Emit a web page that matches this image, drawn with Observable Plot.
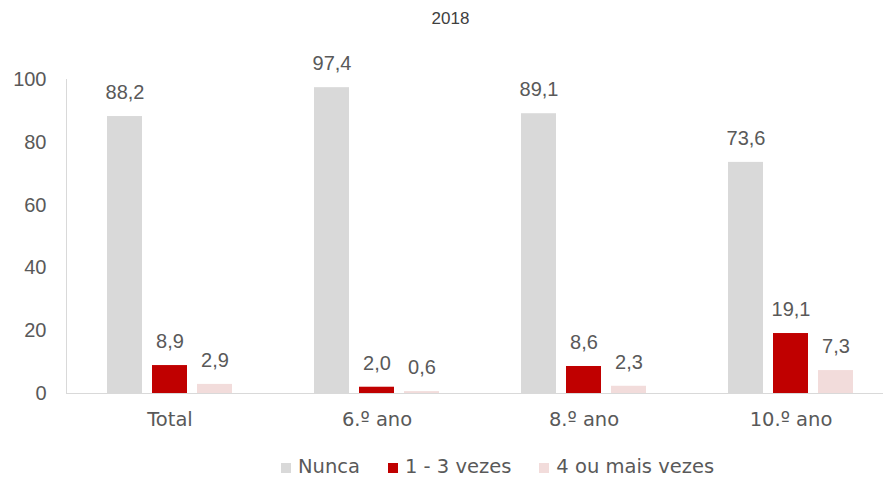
<!DOCTYPE html>
<html>
<head>
<meta charset="utf-8">
<script src="https://cdn.jsdelivr.net/npm/d3@7"></script>
<script src="https://cdn.jsdelivr.net/npm/@observablehq/plot@0.6"></script>
<style>
  html, body { margin: 0; padding: 0; background: #fff; overflow: hidden; }
  body { width: 883px; height: 479px; position: relative; font-family: "DejaVu Sans", sans-serif; }
  #title { position: absolute; top: 9px; left: 9px; width: 883px; text-align: center; font-family: "Liberation Sans", Arial, sans-serif; font-size: 17px; color: #404040; }
  #chart { position: absolute; top: 0; left: 0; }
  #legend { position: absolute; top: 456px; left: 281px; display: flex; gap: 28px; font-size: 19.5px; line-height: 21px; color: #595959; white-space: nowrap; }
  #legend .item { display: flex; align-items: baseline; gap: 7px; }
  #legend .sw { display: inline-block; width: 10px; height: 10px; }
</style>
</head>
<body>
<div id="title">2018</div>
<div id="chart"></div>
<div id="legend"></div>
<script>
const groups = ["Total", "6.º ano", "8.º ano", "10.º ano"];
const series = ["Nunca", "1 - 3 vezes", "4 ou mais vezes"];
const nunca = [88.2, 97.4, 89.1, 73.6];
const vezes1a3 = [8.9, 2.0, 8.6, 19.1];
const vezes4mais = [2.9, 0.6, 2.3, 7.3];
const colors = ["#d9d9d9", "#c00000", "#f2dcdb"];
const yTicks = [0, 20, 40, 60, 80, 100];

const seriesValues = [nunca, vezes1a3, vezes4mais];
const data = groups.flatMap((g, i) => series.map((s, j) => ({group: g, series: s, value: seriesValues[j][i]})));
const fmt = v => d3.format(".1f")(v).replace(".", ",");
const textColor = "#595959";
const numFont = "Liberation Sans, Arial, sans-serif";

const chart = Plot.plot({
  width: 883,
  height: 440,
  marginTop: 79,
  marginBottom: 47,
  marginLeft: 64,
  marginRight: -12,
  style: {fontFamily: "DejaVu Sans, sans-serif", fontSize: "19px", color: textColor, background: "transparent", overflow: "visible"},
  fx: {domain: groups, padding: 0, label: null},
  x: {domain: series, paddingInner: 0.217, paddingOuter: 0.865, axis: null},
  y: {domain: [0, 100], label: null},
  color: {domain: series, range: colors},
  marks: [
    Plot.barY(data, {fx: "group", x: "series", y: "value", fill: "series"}),
    Plot.text(data, {fx: "group", x: "series", y: "value", text: d => fmt(d.value), dy: -24, fill: textColor, fontSize: 20, fontFamily: numFont}),
    Plot.ruleY([0], {stroke: "#d9d9d9", strokeWidth: 1.2}),
    Plot.frame({anchor: "left", stroke: "#d9d9d9", facet: "super"}),
    Plot.axisY(yTicks, {tickSize: 0, tickPadding: 20, label: null, fill: textColor, fontSize: 20, fontFamily: numFont, tickFormat: d => d}),
    Plot.axisFx({anchor: "bottom", tickSize: 0, tickPadding: 19, label: null, fill: textColor, fontSize: 19.5})
  ]
});
document.getElementById("chart").appendChild(chart);

const legend = document.getElementById("legend");
series.forEach((s, i) => {
  const item = document.createElement("span");
  item.className = "item";
  const sw = document.createElement("span");
  sw.className = "sw";
  sw.style.background = colors[i];
  const label = document.createElement("span");
  label.textContent = s;
  item.appendChild(sw);
  item.appendChild(label);
  legend.appendChild(item);
});
</script>
</body>
</html>
